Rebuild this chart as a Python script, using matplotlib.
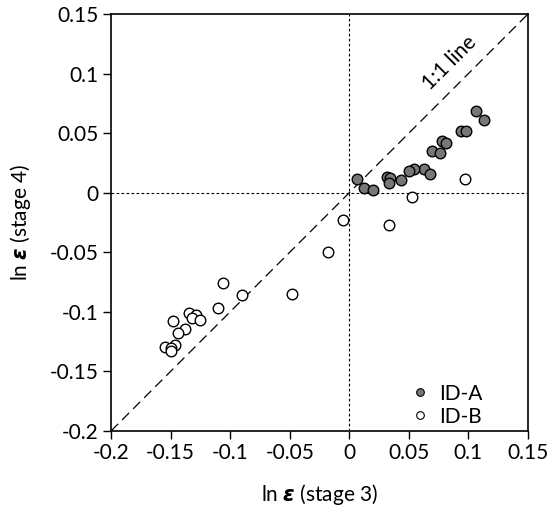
import matplotlib.pyplot as plt
from matplotlib.lines import Line2D

plt.rcParams['font.family'] = ['Lato', 'DejaVu Sans']

# ----- Data (ln strain, stage 3 vs stage 4) -----
ida_x = [0.1066, 0.113, 0.0938, 0.0977, 0.0778, 0.0814, 0.0694, 0.0758,
         0.0625, 0.068, 0.0546, 0.0501, 0.0437, 0.0316, 0.0338, 0.033,
         0.0065, 0.012, 0.0196]
ida_y = [0.069, 0.061, 0.052, 0.052, 0.043, 0.0417, 0.035, 0.033,
         0.0199, 0.016, 0.0201, 0.0179, 0.0103, 0.0129, 0.012, 0.0081,
         0.0115, 0.0042, 0.0023]

idb_x = [0.0968, 0.0529, 0.033, -0.005, -0.0182, -0.048, -0.106, -0.090,
         -0.110, -0.1346, -0.1287, -0.1318, -0.1257, -0.148, -0.138,
         -0.144, -0.1463, -0.1545, -0.150, -0.1495]
idb_y = [0.0118, -0.0036, -0.027, -0.0227, -0.0495, -0.085, -0.0756, -0.0862,
         -0.0968, -0.101, -0.1027, -0.105, -0.107, -0.108, -0.114,
         -0.118, -0.1276, -0.1296, -0.13, -0.1327]

ticks = [-0.2, -0.15, -0.1, -0.05, 0, 0.05, 0.1, 0.15]
tick_labels = ['-0.2', '-0.15', '-0.1', '-0.05', '0', '0.05', '0.1', '0.15']

FS = 15

fig = plt.figure(figsize=(5.48, 5.13), dpi=100)
ax = fig.add_axes([0.2026, 0.1599, 0.7609, 0.8128])

# reference lines
ax.plot([-0.2, 0.15], [-0.2, 0.15], color='black', lw=0.9, dashes=(8, 4.5), zorder=1)
ax.axhline(0, color='black', lw=0.8, dashes=(2.5, 2), zorder=1)
ax.axvline(0, color='black', lw=0.8, dashes=(2.5, 2), zorder=1)

ax.scatter(ida_x, ida_y, s=58, facecolor='#777777', edgecolor='black', lw=1.0, zorder=3)
ax.scatter(idb_x, idb_y, s=58, facecolor='white', edgecolor='black', lw=1.0, zorder=3)

ax.text(0.084, 0.109, '1:1 line', rotation=45, ha='center', va='center', fontsize=FS)

ax.set_xlim(-0.2, 0.15)
ax.set_ylim(-0.2, 0.15)
ax.set_xticks(ticks)
ax.set_xticklabels(tick_labels)
ax.set_yticks(ticks)
ax.set_yticklabels(tick_labels)
ax.tick_params(direction='out', length=6, width=1, labelsize=FS, top=False, right=False, pad=3)
for s in ax.spines.values():
    s.set_linewidth(1.2)

ax.set_xlabel(r'ln $\mathbfit{\varepsilon}$ (stage 3)', fontsize=FS, labelpad=13)
ax.set_ylabel(r'ln $\mathbfit{\varepsilon}$ (stage 4)', fontsize=FS, labelpad=12)

handles = [
    Line2D([], [], ls='none', marker='o', ms=5.5, mfc='#777777', mec='black', mew=0.8),
    Line2D([], [], ls='none', marker='o', ms=5.5, mfc='white', mec='black', mew=0.8),
]
ax.legend(handles, ['ID-A', 'ID-B'], loc='center left', bbox_to_anchor=(0.711, 0.062),
          frameon=False, fontsize=FS, handletextpad=0.3, handlelength=1.2,
          labelspacing=0.15, borderpad=0, borderaxespad=0)

plt.savefig('out.png', dpi=100)
